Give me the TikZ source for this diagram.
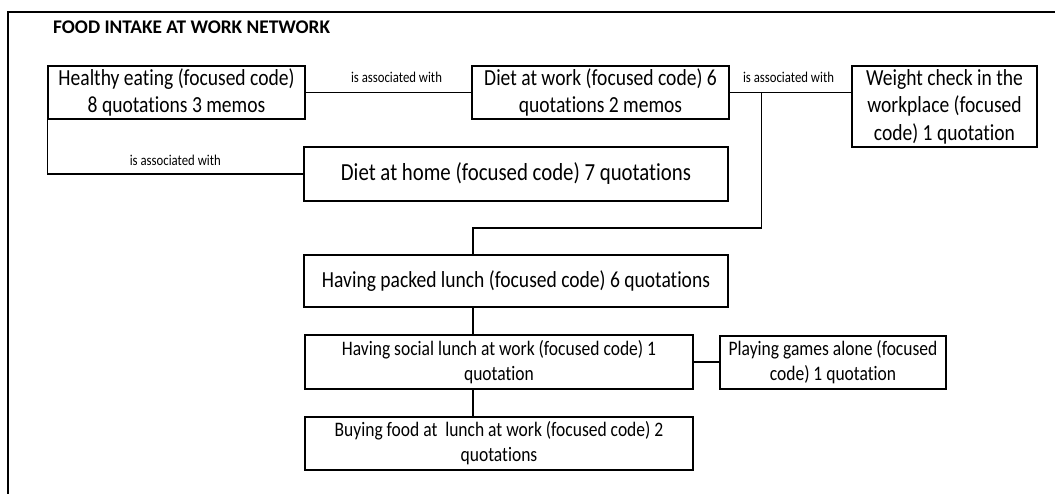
\documentclass[tikz,border=0pt]{standalone}
\usepackage{fontspec}
\setmainfont{Carlito}[FakeStretch=0.85, Ligatures=NoCommon]
\newfontfamily\titlefont{Carlito}[Ligatures=NoCommon]
\usetikzlibrary{calc}
\tikzset{
  box/.style={draw, line width=1.4pt, align=center, inner sep=0pt,
    font=\fontsize{23}{27.5}\selectfont},
  smallbox/.style={box, font=\fontsize{20.6}{25}\selectfont},
  conn/.style={line width=1.4pt},
  lbl/.style={font=\fontsize{15}{18}\selectfont, inner sep=0pt},
  frame/.style={line width=1.2pt}
}
\begin{document}
\begin{tikzpicture}[x=1pt, y=-1pt]
\useasboundingbox (0,0) rectangle (1055,494);
\coordinate (ftop) at (8,12);
\coordinate (fright) at (1055,12);
\coordinate (fbot) at (8,494);
\draw[frame] (fright) -- (ftop) -- (fbot);
\node[anchor=base west, inner sep=0pt, font=\titlefont\bfseries\fontsize{19.3}{23}\selectfont] (title) at (53,34) {FOOD INTAKE AT WORK NETWORK};

\node[box, minimum width=257pt, minimum height=53pt] (he) at (176.5,92.5) {Healthy eating (focused code)\\8 quotations 3 memos};
\node[box, minimum width=257pt, minimum height=53pt] (dw) at (600.5,92.5) {Diet at work (focused code) 6\\quotations 2 memos};
\node[box, minimum width=185pt, minimum height=81pt] (wc) at (944.5,106.5) {Weight check in the\\workplace (focused\\code) 1 quotation};
\node[box, minimum width=424pt, minimum height=54pt, font=\fontsize{24.5}{29}\selectfont] (dh) at (516,174) {\raisebox{-3pt}{Diet at home (focused code) 7 quotations}};
\node[box, minimum width=424pt, minimum height=52pt] (hpl) at (516,281) {Having packed lunch (focused code) 6 quotations};
\node[smallbox, minimum width=388pt, minimum height=54pt] (sl) at (499,362) {Having social lunch at work (focused code) 1\\quotation};
\node[smallbox, minimum width=226pt, minimum height=53pt] (pg) at (833,362.5) {Playing games alone (focused\\code) 1 quotation};
\node[smallbox, minimum width=388pt, minimum height=53pt] (bf) at (499,443.5) {Buying food at\ \ lunch at work (focused code) 2\\quotations};

% connectors
\draw[conn] (he.east) -- node[lbl, above=9pt, xshift=8pt] {is associated with} (dw.west);
\draw[conn] (dw.east) -- node[lbl, above=9pt, xshift=-2pt] {is associated with} (dw.east -| wc.west);
\draw[conn] (he.south west) |- node[lbl, pos=0.75, above=8pt] {is associated with} (dh.west);
\coordinate (j1) at ($(dw.east)+(32,0)$);
\coordinate (k) at (473,228);
\draw[conn] (j1) |- (k) -- (k |- hpl.north);
\draw[conn] (k |- hpl.south) -- (k |- sl.north);
\draw[conn] (k |- sl.south) -- (k |- bf.north);
\draw[conn] (sl.east) -- (sl.east -| pg.west);
\end{tikzpicture}
\end{document}
